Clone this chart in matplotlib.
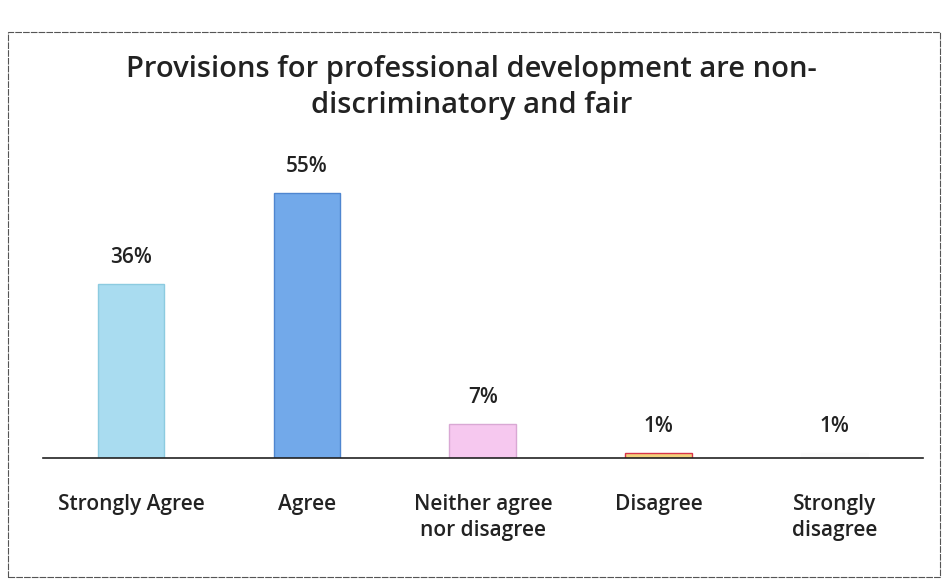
import matplotlib.pyplot as plt
from matplotlib.patches import Rectangle

categories = ['Strongly Agree', 'Agree', 'Neither agree\nnor disagree', 'Disagree', 'Strongly\ndisagree']
values = [36, 55, 7, 1, 1]
labels = ['36%', '55%', '7%', '1%', '1%']
colours = ['#a9dcf0', '#72a9ea', '#f6c8ef', '#f2d27a', '#fbfbfb']
edges = ['#8ccbe0', '#4f86d0', '#d9a8d4', '#d8344a', '#fbfbfb']

plt.rcParams['font.family'] = ['Open Sans', 'DejaVu Sans']

fig = plt.figure(figsize=(9.43, 5.83), dpi=100)
fig.patches.append(Rectangle((0.009, 0.01), 0.988, 0.935, transform=fig.transFigure,
                             fill=False, edgecolor='#555555', linewidth=0.8, linestyle=(0, (6, 1))))

ax = fig.add_axes([0.0456, 0.215, 0.933, 0.496])
bars = ax.bar(range(len(values)), values, width=0.38, color=colours, edgecolor=edges, linewidth=1)
for b, lab in zip(bars, labels):
    ax.text(b.get_x() + b.get_width() / 2, b.get_height() + 3.3, lab,
            ha='center', va='bottom', fontsize=15, fontweight='semibold', color='#222222')

ax.set_xlim(-0.5, 4.5)
ax.set_ylim(0, 60)
ax.set_yticks([])
ax.set_xticks(range(len(values)))
ax.set_xticklabels(categories, fontsize=15, fontweight='semibold', color='#222222', linespacing=1.35)
ax.tick_params(axis='x', length=0, pad=26)
for s in ['top', 'right', 'left']:
    ax.spines[s].set_visible(False)
ax.spines['bottom'].set_color('#222222')
ax.spines['bottom'].set_linewidth(1.2)

fig.text(0.5, 0.85, 'Provisions for professional development are non-\ndiscriminatory and fair',
         ha='center', va='center', fontsize=21, fontweight='semibold', color='#222222', linespacing=1.3)

fig.savefig('out.png', dpi=100)
